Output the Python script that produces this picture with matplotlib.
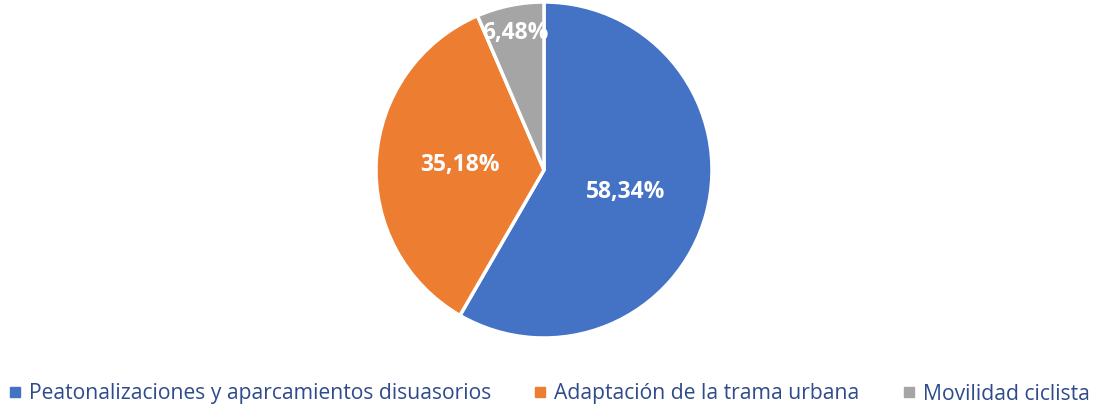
import numpy as np
import matplotlib.pyplot as plt
from matplotlib.lines import Line2D

labels = ["Peatonalizaciones y aparcamientos disuasorios",
          "Adaptación de la trama urbana",
          "Movilidad ciclista"]
shares = [58.34, 35.18, 6.48]
colors = ["#4472C4", "#ED7D31", "#A5A5A5"]

plt.rcParams["font.family"] = ["Open Sans", "DejaVu Sans"]

fig = plt.figure(figsize=(10.97, 4.05), dpi=100)
# pie centred at (544, 170) px with radius 168 px
ax = fig.add_axes([(544 - 168) / 1097, (405 - 170 - 168) / 405, 336 / 1097, 336 / 405])

wedges, texts, autotexts = ax.pie(
    shares, colors=colors, startangle=90, counterclock=False,
    autopct=lambda p: f"{p:.2f}%".replace(".", ","), pctdistance=0.5,
    wedgeprops=dict(edgecolor="white", linewidth=2.5),
    textprops=dict(color="white", fontsize=16.5, fontweight="bold"))
ax.set_xlim(-1, 1)
ax.set_ylim(-1, 1)

# small slice: push its label out towards the rim
w = wedges[2]
mid = np.deg2rad((w.theta1 + w.theta2) / 2)
autotexts[2].set_position((0.83 * np.cos(mid), 0.83 * np.sin(mid)))

handles = [Line2D([], [], marker="s", linestyle="none", markersize=7,
                  markerfacecolor=c, markeredgecolor=c) for c in colors]
leg = fig.legend(handles, labels, loc="center", bbox_to_anchor=(0.5, 11 / 405),
                 ncol=3, frameon=False, fontsize=15.2, handletextpad=0.3,
                 columnspacing=2.0, handlelength=0.7)
for t in leg.get_texts():
    t.set_color("#2F4B8C")

fig.savefig("out.png", dpi=100)
